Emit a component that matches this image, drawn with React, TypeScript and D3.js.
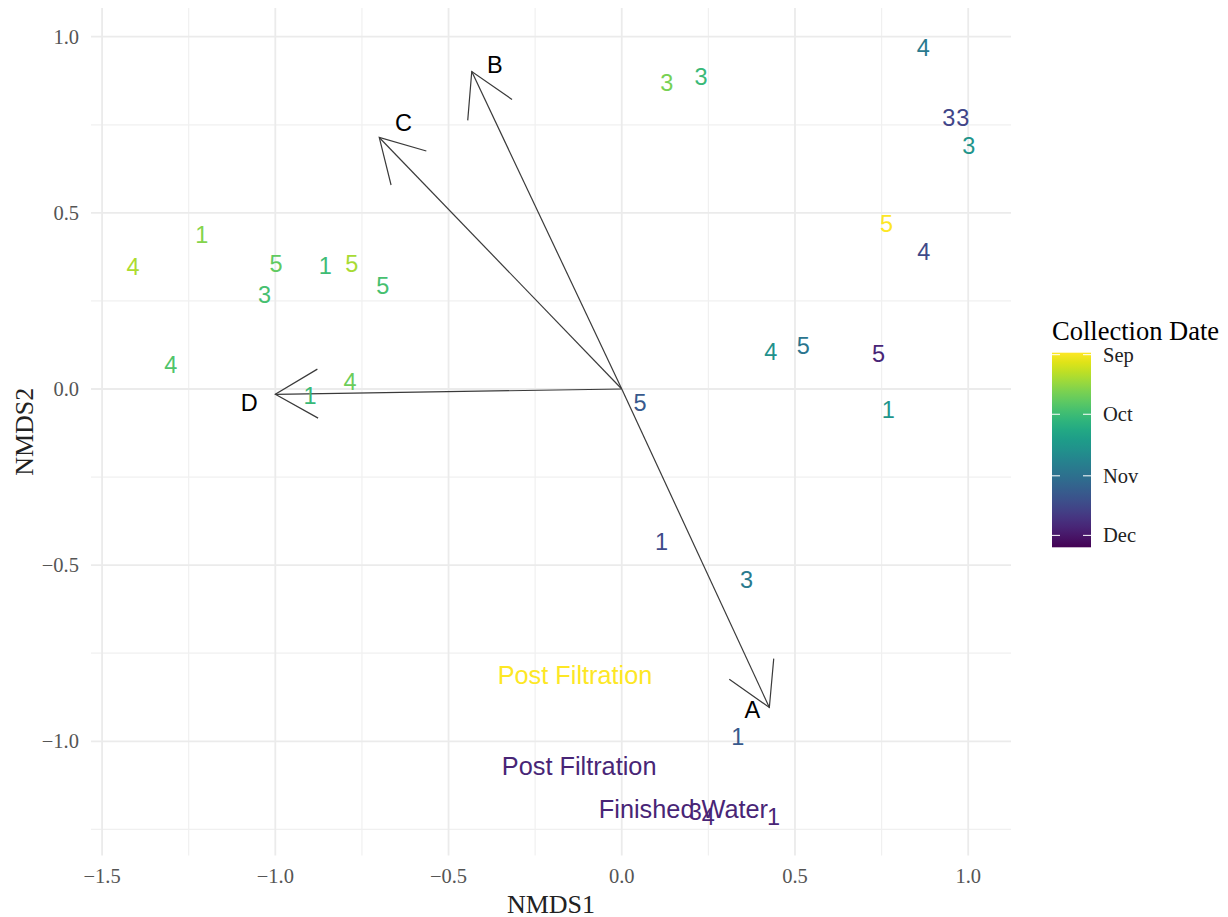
import React from "react";
import * as d3 from "d3";

// ---- data ----
const SAMPLE_LABELS = ["4","1","5","3","1","5","5","4","1","4","3","3","4","3","3","3","5","4","4","5","5","1","5","1","3","1","3","4","1"];
const SAMPLE_NMDS1 = [-1.411,-1.212,-0.998,-1.031,-0.856,-0.779,-0.690,-1.302,-0.900,-0.784,0.130,0.229,0.870,0.944,0.984,1.002,0.764,0.872,0.430,0.524,0.741,0.769,0.053,0.115,0.360,0.335,0.212,0.250,0.438];
const SAMPLE_NMDS2 = [0.347,0.437,0.355,0.267,0.350,0.355,0.292,0.068,-0.019,0.021,0.868,0.887,0.968,0.768,0.768,0.690,0.467,0.388,0.104,0.123,0.099,-0.060,-0.041,-0.433,-0.541,-0.989,-1.200,-1.214,-1.214];
const SAMPLE_DATES = ["2019-09-12","2019-09-18","2019-09-24","2019-09-29","2019-10-01","2019-09-13","2019-09-29","2019-09-27","2019-10-02","2019-09-22","2019-09-20","2019-10-02","2019-10-28","2019-11-17","2019-11-17","2019-10-17","2019-08-31","2019-11-15","2019-10-19","2019-10-30","2019-11-27","2019-10-17","2019-11-10","2019-11-15","2019-10-28","2019-11-10","2019-11-27","2019-11-27","2019-11-27"];

const SITE_LABELS = ["Post Filtration","Post Filtration","Finished Water"];
const SITE_NMDS1 = [-0.135,-0.123,0.178];
const SITE_NMDS2 = [-0.812,-1.069,-1.192];
const SITE_DATES = ["2019-08-31","2019-11-27","2019-11-27"];

const VECTOR_NAMES = ["A","B","C","D"];
const VECTOR_NMDS1 = [0.426,-0.433,-0.700,-1.000];
const VECTOR_NMDS2 = [-0.904,0.901,0.714,-0.015];
const VECTOR_LABEL_NMDS1 = [0.377,-0.366,-0.630,-1.075];
const VECTOR_LABEL_NMDS2 = [-0.911,0.920,0.754,-0.041];

const X_TICKS = [-1.5,-1.0,-0.5,0.0,0.5,1.0];
const Y_TICKS = [-1.0,-0.5,0.0,0.5,1.0];
const X_MINOR = [-1.25,-0.75,-0.25,0.25,0.75];
const Y_MINOR = [-1.25,-0.75,-0.25,0.25,0.75];
const LEGEND_BREAKS = ["2019-09-01","2019-10-01","2019-11-01","2019-12-01"];
const LEGEND_LABELS = ["Sep","Oct","Nov","Dec"];
const DATE_LIMITS = ["2019-08-31","2019-12-07"];

const W = 1228, H = 917;
const P = { left: 91, right: 1011, top: 8, bottom: 855.6 };

export default function App() {
  const parse = d3.utcParse("%Y-%m-%d");
  const x = d3.scaleLinear().domain([-1.532, 1.1235]).range([P.left, P.right]);
  const y = d3.scaleLinear().domain([-1.3245, 1.0815]).range([P.bottom, P.top]);
  const dateLim = DATE_LIMITS.map(d => parse(d) as Date);
  const tColor = d3.scaleTime().domain(dateLim).range([1, 0]);
  const color = (s: string) => d3.interpolateViridis(tColor(parse(s) as Date));
  const legTop = 352.7, legBot = 547.3, legX = 1052, legW = 39;
  const legY = d3.scaleTime().domain(dateLim).range([legTop, legBot]);

  const stops = d3.range(0, 1.0001, 0.05).map(f => ({ off: f, c: d3.interpolateViridis(1 - f) }));

  const sans = "'Liberation Sans', Arial, Helvetica, sans-serif";
  const serif = "'Liberation Serif', 'Times New Roman', Times, serif";
  const arrowLen = 49;
  const ang = Math.PI / 6;

  return (
    <svg width={W} height={H} style={{ position: "absolute", left: 0, top: 0 }} xmlns="http://www.w3.org/2000/svg">
      <rect width={W} height={H} fill="#ffffff" />
      <defs>
        <linearGradient id="vir" x1="0" y1="0" x2="0" y2="1">
          {stops.map((s, i) => <stop key={i} offset={s.off} stopColor={s.c} />)}
        </linearGradient>
      </defs>
      {/* grid */}
      <g>
        {X_MINOR.map(v => <line key={"xm" + v} x1={x(v)} x2={x(v)} y1={P.top} y2={P.bottom} stroke="#f0f0f0" strokeWidth={1.2} />)}
        {Y_MINOR.map(v => <line key={"ym" + v} y1={y(v)} y2={y(v)} x1={P.left} x2={P.right} stroke="#f0f0f0" strokeWidth={1.2} />)}
        {X_TICKS.map(v => <line key={"xM" + v} x1={x(v)} x2={x(v)} y1={P.top} y2={P.bottom} stroke="#ebebeb" strokeWidth={1.8} />)}
        {Y_TICKS.map(v => <line key={"yM" + v} y1={y(v)} y2={y(v)} x1={P.left} x2={P.right} stroke="#ebebeb" strokeWidth={1.8} />)}
      </g>
      {/* axis tick labels */}
      <g fontFamily={serif} fontSize={20.5} fill="#555555">
        {X_TICKS.map(v => <text key={"xt" + v} x={x(v)} y={876} textAnchor="middle" dominantBaseline="central">{d3.format(".1f")(v)}</text>)}
        {Y_TICKS.map(v => <text key={"yt" + v} x={79} y={y(v)} textAnchor="end" dominantBaseline="central">{d3.format(".1f")(v)}</text>)}
      </g>
      <text x={(P.left + P.right) / 2} y={904} textAnchor="middle" dominantBaseline="central" fontFamily={serif} fontSize={26} fill="#222">NMDS1</text>
      <text transform={`translate(24,${(P.top + P.bottom) / 2}) rotate(-90)`} textAnchor="middle" dominantBaseline="central" fontFamily={serif} fontSize={26} fill="#222">NMDS2</text>
      {/* vectors */}
      <g stroke="#3a3a3a" strokeWidth={1.2} fill="none">
        {VECTOR_NAMES.map((n, i) => {
          const x0 = x(0), y0 = y(0), x1 = x(VECTOR_NMDS1[i]), y1 = y(VECTOR_NMDS2[i]);
          const th = Math.atan2(y0 - y1, x0 - x1);
          const w1 = [x1 + arrowLen * Math.cos(th + ang), y1 + arrowLen * Math.sin(th + ang)];
          const w2 = [x1 + arrowLen * Math.cos(th - ang), y1 + arrowLen * Math.sin(th - ang)];
          return (
            <g key={n}>
              <line x1={x0} y1={y0} x2={x1} y2={y1} />
              <polyline points={`${w1[0]},${w1[1]} ${x1},${y1} ${w2[0]},${w2[1]}`} />
            </g>
          );
        })}
      </g>
      <g fontFamily={sans} fontSize={23.5} fill="#000">
        {VECTOR_NAMES.map((n, i) => <text key={"vl" + n} x={x(VECTOR_LABEL_NMDS1[i])} y={y(VECTOR_LABEL_NMDS2[i])} textAnchor="middle" dominantBaseline="central">{n}</text>)}
      </g>
      {/* site labels */}
      <g fontFamily={sans} fontSize={25.3}>
        {SITE_LABELS.map((s, i) => <text key={"s" + i} x={x(SITE_NMDS1[i])} y={y(SITE_NMDS2[i])} textAnchor="middle" dominantBaseline="central" fill={color(SITE_DATES[i])}>{s}</text>)}
      </g>
      {/* sample labels */}
      <g fontFamily={sans} fontSize={23.5}>
        {SAMPLE_LABELS.map((s, i) => <text key={"p" + i} x={x(SAMPLE_NMDS1[i])} y={y(SAMPLE_NMDS2[i])} textAnchor="middle" dominantBaseline="central" fill={color(SAMPLE_DATES[i])}>{s}</text>)}
      </g>
      {/* legend */}
      <text x={legX} y={331} dominantBaseline="central" fontFamily={serif} fontSize={26.5} fill="#000">Collection Date</text>
      <rect x={legX} y={legTop} width={legW} height={legBot - legTop} fill="url(#vir)" />
      {LEGEND_BREAKS.map((b, i) => {
        const yy = legY(parse(b) as Date);
        return (
          <g key={"lb" + b}>
            <line x1={legX} x2={legX + 8} y1={yy} y2={yy} stroke="#ffffff" strokeWidth={1} />
            <line x1={legX + legW - 8} x2={legX + legW} y1={yy} y2={yy} stroke="#ffffff" strokeWidth={1} />
            <text x={1103} y={yy} dominantBaseline="central" fontFamily={serif} fontSize={20.5} fill="#222">{LEGEND_LABELS[i]}</text>
          </g>
        );
      })}
    </svg>
  );
}
